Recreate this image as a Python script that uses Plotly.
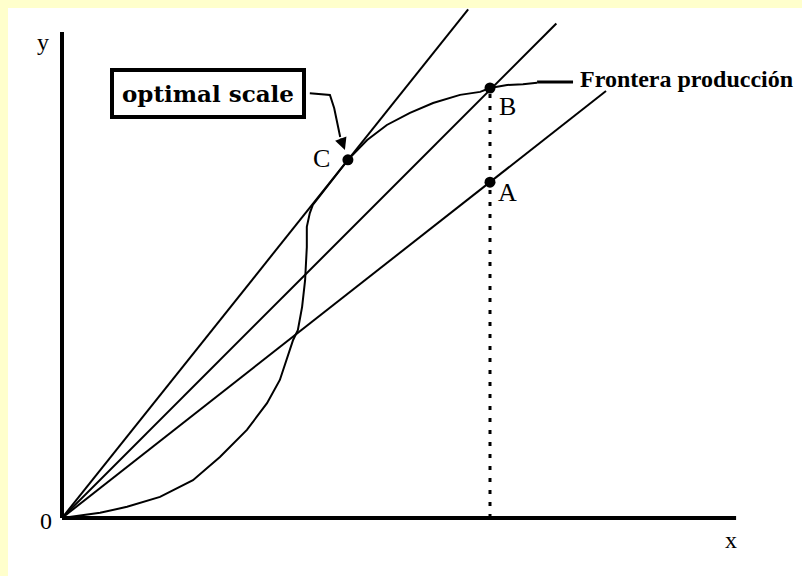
import plotly.graph_objects as go

# Production frontier (S-shaped curve)
frontier_x = [0, 8.9, 15.2, 22.9, 30.6, 36.9, 43.2, 47.9, 50.9, 54.0, 55.1, 56.1, 56.8, 57.2, 57.2,
              57.9, 58.6, 62.6, 66.8, 71.3, 75.9, 81.3, 86.7, 93.0, 97.7, 100, 104, 107.7, 111]
frontier_y = [0, 1.2, 2.6, 4.9, 8.8, 14.2, 20.5, 26.7, 32.1, 41.4, 43.7, 49.1, 55.3, 63.0, 67.7,
              70.9, 72.8, 77.9, 83.3, 87.9, 91.4, 94.2, 96.5, 98.4, 99.1, 100, 100.7, 100.9, 101.2]
label_leader_x = [111, 119.4]
label_leader_y = [101.4, 101.4]

# Rays from origin
ray_a_x, ray_a_y = [0, 127.1], [0, 99.3]
ray_b_x, ray_b_y = [0, 115.5], [0, 115.0]
ray_c_x, ray_c_y = [0, 94.9], [0, 118.3]

# Points
point_names = ["A", "B", "C"]
point_x = [100, 100, 66.8]
point_y = [78.1, 100, 83.3]

# Axes
yaxis_top = 113.0
xaxis_end = 157.5

# optimal scale leader
opt_leader_x = [57.9, 62.6, 63.6, 65.0]
opt_leader_y = [98.8, 98.4, 95.3, 88.6]

BLACK = "black"
fig = go.Figure()

def line(xs, ys, w=2, dash="solid"):
    fig.add_trace(go.Scatter(x=xs, y=ys, mode="lines", line=dict(color=BLACK, width=w, dash=dash),
                             hoverinfo="skip", showlegend=False))

line([0, 0], [0, yaxis_top], w=4)
line([0, xaxis_end], [0, 0], w=4)
line([point_x[1], point_x[1]], [0, point_y[1]], w=3, dash="4px,8px")
line(ray_a_x, ray_a_y)
line(ray_b_x, ray_b_y)
line(ray_c_x, ray_c_y)
line(frontier_x, frontier_y)
line(label_leader_x, label_leader_y, w=3)
line(opt_leader_x, opt_leader_y, w=2)

fig.add_trace(go.Scatter(x=point_x, y=point_y, mode="markers",
                         marker=dict(color=BLACK, size=11), hoverinfo="skip", showlegend=False))

serif = "Liberation Serif"
anns = [
    dict(x=-4.4, y=110.7, text="y", size=24),
    dict(x=-3.8, y=-0.6, text="0", size=24),
    dict(x=156.3, y=-5.1, text="x", size=24),
    dict(x=60.7, y=83.7, text="C", size=26),
    dict(x=104.0, y=95.6, text="B", size=26),
    dict(x=104.2, y=75.6, text="A", size=26),
]
for a in anns:
    fig.add_annotation(x=a["x"], y=a["y"], text=a["text"], showarrow=False,
                       font=dict(family=serif, size=a["size"], color=BLACK))

fig.add_annotation(x=120.6, y=102.1, text="<b>Frontera producción</b>", showarrow=False,
                   xanchor="left", font=dict(family=serif, size=24, color=BLACK))

fig.add_annotation(x=34.1, y=98.8, text="<b>optimal scale</b>", showarrow=False,
                   font=dict(family="DejaVu Serif", size=23, color=BLACK),
                   bordercolor=BLACK, borderwidth=4, borderpad=8, bgcolor="white")

# arrow head at C
fig.add_annotation(x=66.1, y=85.6, ax=65.0, ay=88.6, axref="x", ayref="y", xref="x", yref="y",
                   text="", showarrow=True, arrowhead=2, arrowsize=1.2, arrowwidth=2, arrowcolor=BLACK)

W, H = 802, 576
fig.update_layout(
    width=W, height=H,
    margin=dict(l=0, r=0, t=0, b=0),
    paper_bgcolor="white", plot_bgcolor="white",
    xaxis=dict(range=[-62 / 4.28, 740 / 4.28], visible=False),
    yaxis=dict(range=[-58 / 4.3, 518 / 4.3], visible=False),
    shapes=[
        dict(type="rect", xref="paper", yref="paper", x0=0, x1=8 / W, y0=0, y1=1,
             fillcolor="#FFFFCC", line=dict(width=0), layer="below"),
        dict(type="rect", xref="paper", yref="paper", x0=0, x1=1, y0=1 - 8 / H, y1=1,
             fillcolor="#FFFFCC", line=dict(width=0), layer="below"),
    ],
)

fig.write_html("out.html", config={"displayModeBar": False},
               post_script="document.body.style.margin='0px';")
